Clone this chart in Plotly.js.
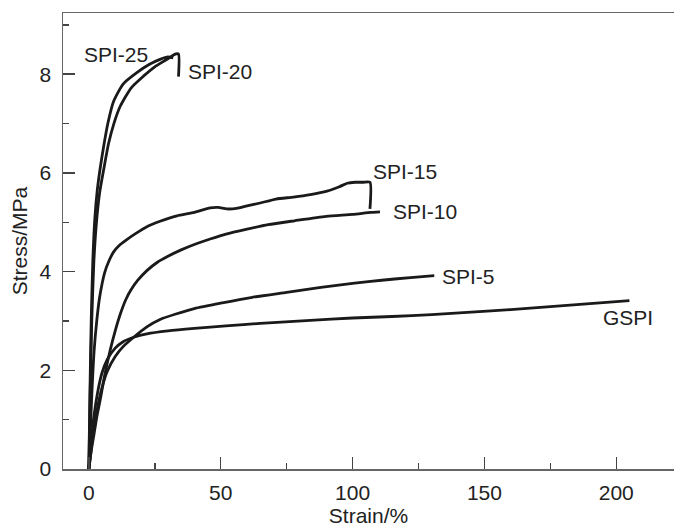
<!DOCTYPE html>
<html>
<head>
<meta charset="utf-8">
<script src="https://cdn.plot.ly/plotly-3.0.1.min.js"></script>
<style>html,body{margin:0;padding:0;background:#fff;}#chart{width:674px;height:527px;}</style>
</head>
<body>
<div id="chart"></div>
<script>
// ---- data (strain %, stress MPa) ----
const gspiX  = [0, 1, 2, 3.5, 5, 7, 10, 13, 17, 22, 30, 40, 52, 65, 84, 100, 115, 130, 145, 160, 175, 190, 205];
const gspiY  = [0, 0.6, 1.1, 1.6, 1.95, 2.22, 2.45, 2.58, 2.67, 2.74, 2.80, 2.85, 2.90, 2.95, 3.01, 3.06, 3.09, 3.13, 3.18, 3.23, 3.29, 3.35, 3.41];

const spi5X  = [0, 1, 2, 3.5, 5, 7, 10, 13, 17, 22, 27, 33, 40, 50, 62, 75, 88, 100, 112, 122, 131];
const spi5Y  = [0, 0.45, 0.85, 1.3, 1.65, 1.98, 2.28, 2.48, 2.67, 2.88, 3.03, 3.14, 3.25, 3.36, 3.48, 3.58, 3.68, 3.76, 3.83, 3.88, 3.92];

const spi10X = [0, 1, 2, 3, 4.3, 6, 8.1, 10, 12, 14, 16, 18.5, 22, 26, 30, 35, 40, 46, 52, 60, 68, 78, 90, 100, 107, 110.4];
const spi10Y = [0, 0.4, 0.72, 1.05, 1.4, 1.9, 2.41, 2.8, 3.15, 3.43, 3.63, 3.82, 4.02, 4.19, 4.31, 4.44, 4.55, 4.66, 4.76, 4.86, 4.95, 5.03, 5.12, 5.16, 5.20, 5.21];

const spi15X = [0, 0.5, 1.2, 2, 3, 4, 5, 6, 7.5, 9.4, 11.5, 14.4, 18, 22, 27, 33.4, 40, 46, 49, 52.3, 56, 60, 65, 71, 77.6, 84, 90.3, 95, 98, 101, 104, 106.6, 106.6];
const spi15Y = [0, 0.7, 1.6, 2.4, 3.0, 3.45, 3.75, 3.98, 4.2, 4.40, 4.53, 4.65, 4.78, 4.91, 5.02, 5.13, 5.2, 5.29, 5.30, 5.27, 5.28, 5.33, 5.39, 5.47, 5.51, 5.56, 5.63, 5.72, 5.79, 5.81, 5.81, 5.81, 5.27];

const spi20X = [0, 0.5, 1.1, 1.9, 2.9, 4.1, 5.6, 7.5, 9.5, 11.9, 16, 20.7, 25, 28.3, 31, 33, 34, 34];
const spi20Y = [0, 1.5, 3.0, 4.2, 5.0, 5.6, 6.06, 6.6, 7.0, 7.35, 7.72, 7.96, 8.15, 8.26, 8.35, 8.41, 8.41, 7.95];

const spi25X = [0, 0.4, 0.9, 1.5, 2.3, 3.2, 4.2, 5.5, 7.2, 9.4, 13, 18.2, 23, 27, 30, 32];
const spi25Y = [0, 1.5, 3.0, 4.2, 5.1, 5.65, 6.06, 6.5, 7.0, 7.45, 7.8, 8.03, 8.2, 8.30, 8.35, 8.33];

const labelText = ['SPI-25', 'SPI-20', 'SPI-15', 'SPI-10', 'SPI-5', 'GSPI'];
const labelX    = [10.2, 49.8, 119.8, 127.4, 143.8, 204.6];
const labelY    = [8.40, 8.05, 6.03, 5.22, 3.91, 3.08];

const xTitle = 'Strain/%';
const yTitle = 'Stress/MPa';

// ---- chart ----
const lineStyle = {color: '#1a1a1a', width: 2.8, shape: 'spline', smoothing: 0.6};
const series = [[gspiX, gspiY], [spi5X, spi5Y], [spi10X, spi10Y], [spi15X, spi15Y], [spi20X, spi20Y], [spi25X, spi25Y]];
const traces = series.map(s => ({x: s[0], y: s[1], type: 'scatter', mode: 'lines', line: lineStyle, hoverinfo: 'skip'}));

const fontFam = '"Liberation Sans", Arial, Helvetica, sans-serif';
const annotations = labelText.map((t, i) => ({
  x: labelX[i], y: labelY[i], xref: 'x', yref: 'y', text: t, showarrow: false,
  xanchor: 'center', yanchor: 'middle', font: {family: fontFam, size: 21, color: '#222'}
}));

const layout = {
  width: 674, height: 527,
  margin: {l: 62.7, r: 0, t: 13.3, b: 58, pad: 0},
  paper_bgcolor: '#fff', plot_bgcolor: '#fff',
  showlegend: false,
  font: {family: fontFam, size: 21, color: '#222'},
  xaxis: {
    range: [-9.8, 221.9], showgrid: false, zeroline: false,
    showline: true, linecolor: '#666', linewidth: 1.5, mirror: true,
    ticks: 'inside', ticklen: 12, tickwidth: 1.5, tickcolor: '#444',
    tick0: 0, dtick: 50, ticklabelstandoff: 4,
    minor: {dtick: 25, tick0: 0, ticks: 'inside', ticklen: 6, tickwidth: 1.5, tickcolor: '#444', showgrid: false},
    title: {text: xTitle, font: {family: fontFam, size: 21, color: '#222'}, standoff: 6},
    tickfont: {family: fontFam, size: 21, color: '#222'}
  },
  yaxis: {
    range: [0, 9.24], showgrid: false, zeroline: false,
    showline: true, linecolor: '#666', linewidth: 1.5, mirror: false,
    ticks: 'inside', ticklen: 12, tickwidth: 1.5, tickcolor: '#444',
    tick0: 0, dtick: 2, ticklabelstandoff: 6,
    minor: {dtick: 1, tick0: 0, ticks: 'inside', ticklen: 6, tickwidth: 1.5, tickcolor: '#444', showgrid: false},
    title: {text: yTitle, font: {family: fontFam, size: 21, color: '#222'}, standoff: 6},
    tickfont: {family: fontFam, size: 21, color: '#222'}
  },
  annotations: annotations
};

Plotly.newPlot('chart', traces, layout, {staticPlot: true, displayModeBar: false});
</script>
</body>
</html>
